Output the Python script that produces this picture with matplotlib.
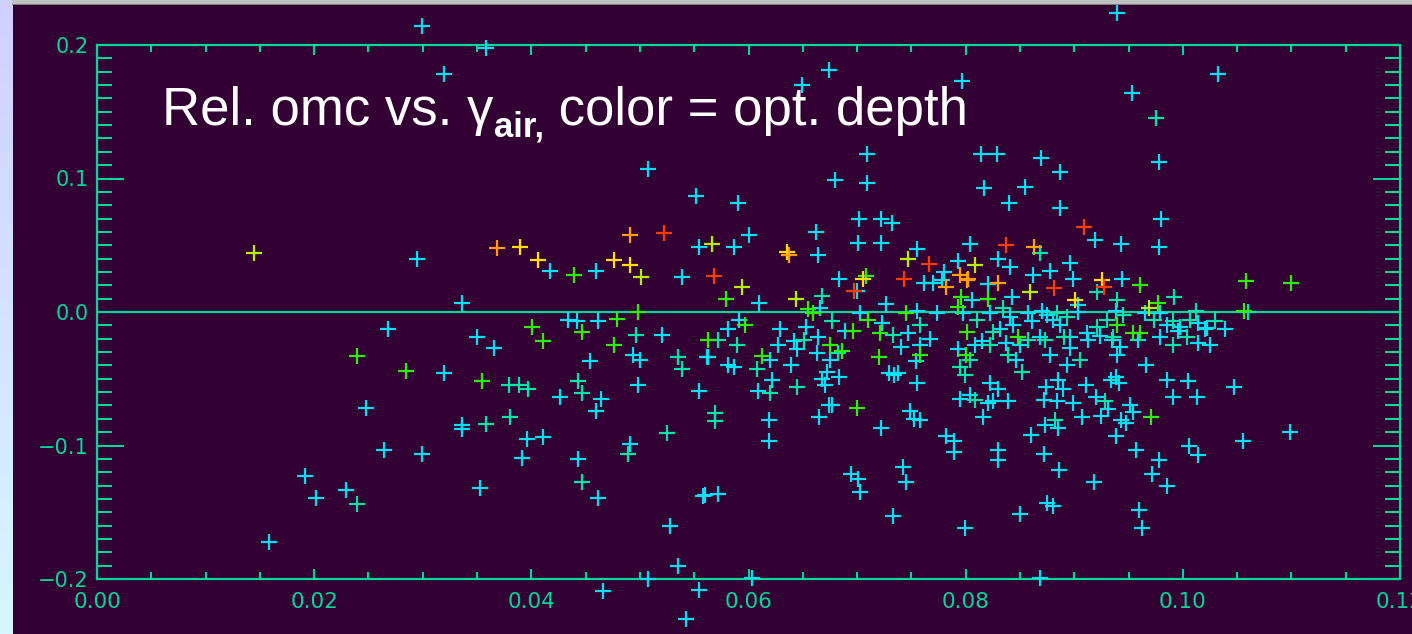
import numpy as np
import matplotlib
matplotlib.use("Agg")
import matplotlib.pyplot as plt
from matplotlib.ticker import MultipleLocator
from matplotlib.colors import LinearSegmentedColormap

# ---------------- data ----------------
gamma_air = [
    0.0299, 0.0939, 0.0358, 0.0320, 0.1032, 0.0953, 0.0975, 0.0978, 0.0674, 0.0649,
    0.0797, 0.0145, 0.0295, 0.0268, 0.0239, 0.0285, 0.0248, 0.0264, 0.0299, 0.0192,
    0.0202, 0.0229, 0.0239, 0.0158, 0.0507, 0.0552, 0.0368, 0.0390, 0.0491, 0.0522,
    0.0554, 0.0566, 0.0406, 0.0417, 0.0439, 0.0460, 0.0476, 0.0491, 0.0501, 0.0539,
    0.0568, 0.0336, 0.0434, 0.0442, 0.0447, 0.0461, 0.0479, 0.0498, 0.0401, 0.0411,
    0.0350, 0.0366, 0.0476, 0.0496, 0.0520, 0.0320, 0.0355, 0.0379, 0.0389, 0.0397,
    0.0426, 0.0443, 0.0447, 0.0454, 0.0464, 0.0460, 0.0494, 0.0500, 0.0498, 0.0535,
    0.0539, 0.0562, 0.0554, 0.0336, 0.0336, 0.0358, 0.0380, 0.0396, 0.0411, 0.0391,
    0.0443, 0.0491, 0.0489, 0.0525, 0.0353, 0.0447, 0.0461, 0.0558, 0.0528, 0.0535,
    0.0507, 0.0466, 0.0554, 0.0542, 0.0563, 0.0709, 0.0680, 0.0709, 0.0590, 0.0600,
    0.0587, 0.0662, 0.0664, 0.0635, 0.0637, 0.0702, 0.0722, 0.0732, 0.0701, 0.0722,
    0.0755, 0.0747, 0.0766, 0.0793, 0.0780, 0.0778, 0.0594, 0.0683, 0.0705, 0.0708,
    0.0697, 0.0700, 0.0743, 0.0762, 0.0770, 0.0795, 0.0801, 0.0782, 0.0579, 0.0610,
    0.0644, 0.0655, 0.0659, 0.0668, 0.0666, 0.0727, 0.0703, 0.0710, 0.0745, 0.0755,
    0.0774, 0.0793, 0.0796, 0.0591, 0.0597, 0.0629, 0.0581, 0.0653, 0.0677, 0.0689,
    0.0696, 0.0723, 0.0721, 0.0758, 0.0747, 0.0572, 0.0589, 0.0563, 0.0587, 0.0581,
    0.0608, 0.0612, 0.0620, 0.0627, 0.0642, 0.0645, 0.0651, 0.0664, 0.0663, 0.0675,
    0.0682, 0.0686, 0.0675, 0.0639, 0.0672, 0.0668, 0.0683, 0.0609, 0.0620, 0.0622,
    0.0645, 0.0670, 0.0674, 0.0677, 0.0665, 0.0700, 0.0720, 0.0729, 0.0734, 0.0738,
    0.0740, 0.0758, 0.0758, 0.0754, 0.0733, 0.0755, 0.0749, 0.0752, 0.0758, 0.0722,
    0.0569, 0.0569, 0.0619, 0.0619, 0.0782, 0.0789, 0.0789, 0.0694, 0.0701, 0.0703,
    0.0742, 0.0745, 0.0733, 0.0799, 0.0560, 0.0572, 0.0603, 0.0767, 0.0793, 0.0800,
    0.0795, 0.0795, 0.0814, 0.0829, 0.0869, 0.0887, 0.0817, 0.0855, 0.0840, 0.0887,
    0.0980, 0.0909, 0.0919, 0.0943, 0.0978, 0.0804, 0.0837, 0.0863, 0.0868, 0.0830,
    0.0841, 0.0896, 0.0809, 0.0862, 0.0878, 0.0802, 0.0821, 0.0830, 0.0859, 0.0881,
    0.0899, 0.0926, 0.0927, 0.0944, 0.0961, 0.0921, 0.0992, 0.0806, 0.0821, 0.0843,
    0.0903, 0.0901, 0.0939, 0.0969, 0.0977, 0.1012, 0.0798, 0.0810, 0.0822, 0.0834,
    0.0841, 0.0844, 0.0857, 0.0861, 0.0870, 0.0875, 0.0880, 0.0884, 0.0887, 0.0893,
    0.0903, 0.0912, 0.0921, 0.0930, 0.0938, 0.0945, 0.0954, 0.0965, 0.0973, 0.0979,
    0.0985, 0.0991, 0.0997, 0.1007, 0.1014, 0.1022, 0.0939, 0.0801, 0.0825, 0.0848,
    0.0868, 0.0896, 0.0936, 0.0961, 0.0979, 0.1004, 0.0809, 0.0815, 0.0822, 0.0832,
    0.0837, 0.0839, 0.0850, 0.0857, 0.0846, 0.0852, 0.0804, 0.0799, 0.0822, 0.0830,
    0.0804, 0.0809, 0.0821, 0.0825, 0.0839, 0.0816, 0.0873, 0.0878, 0.0891, 0.0896,
    0.0893, 0.0905, 0.0913, 0.0924, 0.0935, 0.0939, 0.0942, 0.0959, 0.0874, 0.0885,
    0.0890, 0.0911, 0.0934, 0.0938, 0.0941, 0.0872, 0.0884, 0.0899, 0.0920, 0.0928,
    0.0931, 0.0951, 0.0954, 0.0873, 0.0882, 0.0885, 0.0907, 0.0925, 0.0943, 0.0948,
    0.0971, 0.0860, 0.0938, 0.0957, 0.0830, 0.0830, 0.0872, 0.0886, 0.0918, 0.0978,
    0.0972, 0.0985, 0.1006, 0.1014, 0.0985, 0.1005, 0.0991, 0.1013, 0.0966, 0.0991,
    0.1014, 0.1025, 0.0875, 0.0880, 0.0850, 0.0960, 0.0962, 0.0868, 0.1058, 0.1100,
    0.1056, 0.1060, 0.1047, 0.1055, 0.1099, 0.1020, 0.1030, 0.0996, 0.1039,
]

rel_omc = [
    0.214, 0.224, 0.198, 0.178, 0.178, 0.164, 0.145, 0.112, 0.181, 0.170,
    0.173, 0.044, 0.040, -0.013, -0.033, -0.044, -0.072, -0.103, -0.106, -0.123,
    -0.139, -0.133, -0.144, -0.172, 0.107, 0.087, 0.048, 0.049, 0.058, 0.059,
    0.049, 0.051, 0.039, 0.031, 0.028, 0.031, 0.039, 0.035, 0.026, 0.026,
    0.027, 0.007, -0.006, -0.007, -0.015, -0.007, -0.005, 0.000, -0.011, -0.022,
    -0.019, -0.027, -0.025, -0.017, -0.017, -0.046, -0.052, -0.055, -0.055, -0.058,
    -0.064, -0.052, -0.061, -0.037, -0.065, -0.074, -0.032, -0.036, -0.055, -0.034,
    -0.043, -0.034, -0.059, -0.085, -0.088, -0.084, -0.079, -0.095, -0.094, -0.109,
    -0.110, -0.099, -0.106, -0.091, -0.132, -0.127, -0.139, -0.138, -0.160, -0.190,
    -0.200, -0.209, -0.208, -0.230, -0.021, 0.118, 0.099, 0.097, 0.082, 0.058,
    0.049, 0.060, 0.043, 0.045, 0.043, 0.070, 0.070, 0.067, 0.052, 0.052,
    0.047, 0.040, 0.036, 0.038, 0.030, 0.024, 0.019, 0.025, 0.025, 0.027,
    0.016, 0.016, 0.025, 0.022, 0.022, 0.028, 0.024, 0.019, 0.010, 0.007,
    0.010, 0.002, -0.001, 0.012, 0.003, 0.006, -0.001, -0.006, -0.001, 0.001,
    -0.001, 0.004, 0.011, -0.006, -0.010, -0.013, -0.013, -0.011, -0.007, -0.014,
    -0.014, -0.008, -0.016, -0.010, -0.016, -0.021, -0.025, -0.034, -0.041, -0.040,
    -0.043, -0.033, -0.036, -0.025, -0.022, -0.028, -0.021, -0.019, -0.031, -0.025,
    -0.031, -0.029, -0.036, -0.040, -0.045, -0.050, -0.049, -0.059, -0.061, -0.051,
    -0.056, -0.055, -0.070, -0.070, -0.079, -0.072, -0.034, -0.046, -0.047, -0.046,
    -0.026, -0.025, -0.032, -0.037, -0.017, -0.053, -0.074, -0.080, -0.081, -0.087,
    -0.076, -0.082, -0.081, -0.097, -0.093, -0.097, -0.105, -0.121, -0.125, -0.135,
    -0.116, -0.127, -0.153, -0.162, -0.137, -0.136, -0.199, -0.020, -0.028, -0.032,
    -0.041, -0.065, 0.118, 0.118, 0.115, 0.105, 0.093, 0.094, 0.082, 0.078,
    0.070, 0.064, 0.054, 0.051, 0.049, 0.051, 0.050, 0.049, 0.044, 0.040,
    0.034, 0.037, 0.035, 0.028, 0.031, 0.025, 0.021, 0.022, 0.015, 0.018,
    0.025, 0.024, 0.019, 0.025, 0.020, 0.015, 0.011, 0.009, 0.010, 0.011,
    0.005, 0.009, 0.009, 0.003, 0.007, 0.001, -0.001, -0.006, -0.001, 0.003,
    -0.004, -0.010, -0.001, -0.007, 0.001, -0.002, -0.006, -0.001, -0.010, -0.004,
    0.000, -0.016, -0.011, -0.006, 0.001, -0.002, -0.016, -0.001, -0.006, -0.001,
    -0.010, -0.007, -0.011, -0.006, -0.008, -0.012, -0.010, -0.015, -0.015, -0.019,
    -0.019, -0.019, -0.019, -0.016, -0.019, -0.019, -0.025, -0.022, -0.025, -0.013,
    -0.023, -0.032, -0.025, -0.021, -0.036, -0.045, -0.036, -0.047, -0.053, -0.058,
    -0.062, -0.066, -0.068, -0.067, -0.067, -0.079, -0.021, -0.032, -0.019, -0.027,
    -0.040, -0.036, -0.021, -0.018, -0.021, -0.032, -0.026, -0.021, -0.056, -0.051,
    -0.058, -0.055, -0.051, -0.049, -0.053, -0.066, -0.067, -0.068, -0.064, -0.067,
    -0.073, -0.070, -0.075, -0.085, -0.081, -0.087, -0.079, -0.078, -0.081, -0.083,
    -0.079, -0.092, -0.093, -0.103, -0.103, -0.111, -0.106, -0.118, -0.127, -0.111,
    -0.121, -0.130, -0.100, -0.107, -0.051, -0.052, -0.064, -0.064, -0.040, -0.025,
    -0.023, -0.025, -0.143, -0.145, -0.151, -0.148, -0.162, -0.199, 0.023, 0.022,
    0.001, 0.000, -0.056, -0.097, -0.090, -0.013, -0.007, -0.014, -0.013,
]

# optical-depth class of each line (0 = lowest ... 6 = highest)
opt_depth = [
    0, 0, 0, 0, 0, 0, 1, 0, 0, 0,
    0, 3, 0, 0, 2, 2, 0, 0, 0, 0,
    0, 0, 1, 0, 0, 0, 5, 4, 5, 6,
    0, 3, 4, 0, 2, 0, 4, 4, 3, 0,
    6, 0, 0, 0, 2, 0, 2, 2, 2, 2,
    0, 0, 2, 1, 0, 0, 2, 1, 1, 1,
    0, 1, 1, 0, 0, 0, 0, 0, 0, 1,
    1, 0, 0, 0, 0, 1, 1, 0, 0, 0,
    0, 0, 1, 1, 0, 1, 0, 0, 0, 0,
    0, 0, 0, 0, 2, 0, 0, 0, 0, 0,
    0, 0, 0, 4, 5, 0, 0, 0, 0, 0,
    0, 3, 6, 0, 0, 0, 3, 0, 4, 2,
    6, 0, 6, 0, 0, 5, 5, 5, 2, 0,
    3, 2, 2, 1, 0, 0, 0, 2, 2, 0,
    0, 2, 2, 0, 2, 0, 0, 0, 1, 0,
    2, 0, 2, 1, 0, 1, 1, 0, 0, 0,
    1, 2, 0, 0, 0, 0, 1, 0, 0, 2,
    1, 2, 0, 0, 0, 0, 0, 0, 1, 0,
    1, 0, 0, 0, 0, 2, 2, 0, 0, 0,
    0, 0, 2, 0, 1, 0, 0, 0, 0, 0,
    1, 1, 0, 0, 0, 0, 0, 0, 0, 0,
    0, 0, 0, 0, 0, 0, 0, 0, 0, 2,
    1, 0, 0, 0, 0, 0, 0, 0, 0, 0,
    0, 6, 0, 0, 0, 0, 6, 5, 1, 0,
    0, 0, 3, 0, 0, 5, 0, 5, 3, 6,
    0, 4, 6, 0, 2, 1, 1, 0, 2, 0,
    0, 4, 1, 3, 2, 1, 0, 1, 0, 1,
    0, 0, 0, 0, 0, 0, 0, 1, 0, 1,
    0, 0, 1, 1, 0, 1, 2, 0, 1, 0,
    0, 1, 0, 1, 0, 0, 2, 2, 1, 2,
    0, 0, 1, 2, 0, 1, 0, 0, 1, 0,
    0, 1, 0, 1, 0, 1, 1, 1, 0, 0,
    0, 1, 0, 0, 0, 0, 1, 0, 1, 0,
    0, 1, 0, 0, 0, 0, 0, 0, 0, 0,
    0, 0, 0, 0, 0, 0, 0, 0, 0, 1,
    0, 0, 0, 0, 1, 0, 0, 0, 0, 0,
    2, 0, 0, 0, 0, 0, 0, 0, 0, 0,
    0, 0, 0, 0, 0, 0, 0, 0, 0, 1,
    0, 0, 0, 0, 0, 0, 0, 0, 2, 2,
    2, 1, 0, 0, 0, 0, 1, 0, 0,
]

depth_colors = ['#00e2f2', '#00e6a8', '#30ee00', '#b4ee00', '#ffe000', '#ffa000', '#ff3c00']

x_ticklabels = ['0.00', '0.02', '0.04', '0.06', '0.08', '0.10', '0.12']
y_ticklabels = ['\u22120.2', '\u22120.1', '0.0', '0.1', '0.2']

title_main = 'Rel. omc vs. \u03b3'
title_sub = 'air,'
title_rest = ' color = opt. depth'

# ---------------- styling ----------------
BG = '#330033'
AX = '#00d89a'
W, H = 1412, 634

fig = plt.figure(figsize=(W / 100, H / 100), dpi=100, facecolor=BG)

# left light gradient strip and top grey strip (window chrome)
strip = fig.add_axes([0, 0, 12 / W, 1])
grad = np.linspace(0, 1, 256).reshape(-1, 1)
cm = LinearSegmentedColormap.from_list('s', ['#d8f6ff', '#d0d0ff'])
strip.imshow(grad, aspect='auto', cmap=cm, origin='lower', extent=[0, 1, 0, 1])
strip.axis('off')
top = fig.add_axes([12 / W, 1 - 5 / H, 1 - 12 / W, 5 / H])
top.set_facecolor('#c0c0c0')
top.axhline(0, color='#707070', lw=1.2)
top.set_xticks([]); top.set_yticks([])
for s in top.spines.values():
    s.set_visible(False)

ax = fig.add_axes([97 / W, (H - 579) / H, (1400 - 97) / W, (579 - 45) / H])
ax.set_facecolor(BG)
ax.set_xlim(0, 0.12)
ax.set_ylim(-0.2, 0.2)

xs = np.array(gamma_air)
ys = np.array(rel_omc)
ds = np.array(opt_depth)
for k in range(len(depth_colors)):
    m = ds == k
    ax.plot(xs[m], ys[m], linestyle='none', marker='+', markersize=11.5,
            markeredgewidth=1.6, color=depth_colors[k], clip_on=False, zorder=3 + k)

ax.axhline(0.0, color=AX, lw=1.6, zorder=2)

for s in ax.spines.values():
    s.set_color(AX)
    s.set_linewidth(1.6)

ax.xaxis.set_minor_locator(MultipleLocator(0.005))
ax.yaxis.set_minor_locator(MultipleLocator(0.01))
ax.set_xticks(np.arange(7) * 0.02)
ax.set_xticklabels(x_ticklabels)
ax.set_yticks(np.arange(-2, 3) * 0.1)
ax.set_yticklabels(y_ticklabels)

ax.tick_params(axis='x', which='major', direction='in', length=7.5, width=1.5,
               color=AX, labelcolor=AX, labelsize=15.5, pad=9, top=True)
ax.tick_params(axis='x', which='minor', direction='in', length=5, width=1.5,
               color=AX, top=True)
ax.tick_params(axis='y', which='major', direction='in', length=19.5, width=1.5,
               color=AX, labelcolor=AX, labelsize=15, pad=6, right=True)
ax.tick_params(axis='y', which='minor', direction='in', length=10.5, width=1.5,
               color=AX, right=True)

# title built from three pieces: main text, bold subscript, rest
fig.canvas.draw()
r = fig.canvas.get_renderer()
y_base = 1 - 125 / H
t1 = fig.text(162 / W, y_base, title_main, color='white', fontsize=38,
              family='Liberation Sans', va='baseline', ha='left')
bb = t1.get_window_extent(r)
t2 = fig.text(bb.x1 / W + 1 / W, y_base - 12 / H, title_sub, color='white', fontsize=25,
              family='Liberation Sans', fontweight='bold', va='baseline', ha='left')
bb2 = t2.get_window_extent(r)
fig.text(bb2.x1 / W, y_base, title_rest, color='white', fontsize=38,
         family='Liberation Sans', va='baseline', ha='left')

fig.savefig('out.png', dpi=100, facecolor=BG)
